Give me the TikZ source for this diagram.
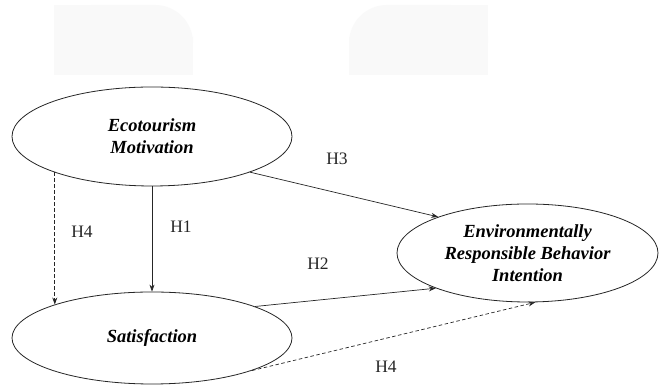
\documentclass[tikz,border=0pt]{standalone}
\usepackage{fontspec}
\setmainfont{Liberation Serif}
\usetikzlibrary{shapes.geometric,arrows.meta}
\begin{document}
\begin{tikzpicture}[x=1pt,y=1pt,
  construct/.style={ellipse,draw=black!85,line width=0.8pt,inner sep=0pt,align=center,
    font=\fontsize{18.5}{22}\selectfont\bfseries\itshape},
  link/.style={draw=black!85,line width=0.7pt,-{Stealth[length=7pt,width=5pt]}},
  dlink/.style={link,dash pattern=on 3.5pt off 2.5pt},
  hyp/.style={font=\fontsize{17.5}{20}\selectfont,text=black!85,inner sep=0pt},
  wmark/.style={fill=gray!5,draw=none}]
\useasboundingbox (0,0) rectangle (662,387);
\fill[white] (0,0) rectangle (662,387);
% faint background shapes
\path[wmark,rounded corners=38pt] (54,312) -- (54,382) -- (193,382) -- (193,312) -- cycle;
\path[wmark] (54,312) -- (54,382) -- (150,382) -- (150,312) -- cycle;
\path[wmark] (150,312) -- (193,312) -- (193,350) -- (150,350) -- cycle;
\path[wmark,rounded corners=38pt] (349,312) -- (349,382) -- (488,382) -- (488,312) -- cycle;
\path[wmark] (392,312) -- (392,382) -- (488,382) -- (488,312) -- cycle;
\path[wmark] (349,312) -- (392,312) -- (392,350) -- (349,350) -- cycle;
% constructs
\node[construct,minimum width=280pt,minimum height=99pt] (em) at (152,250.5) {Ecotourism\\Motivation};
\node[construct,minimum width=280pt,minimum height=92pt] (sat) at (152,49) {Satisfaction};
\node[construct,minimum width=261pt,minimum height=98pt] (erbi) at (527.5,134) {Environmentally\\Responsible Behavior\\Intention};
% paths
\draw[link] (em.south) -- (sat.north);
\draw[dlink] (sat.161 |- em.-160) -- (sat.161);
\draw[link] (em.-20) -- (erbi.158);
\draw[link] (sat.17) -- (erbi.-159);
\draw[dlink] (sat.-18) -- (erbi.-81);
% labels
\node[hyp] (h4a) at (82,155) {H4};
\node[hyp] (h1) at (181,160) {H1};
\node[hyp] (h3) at (337,228) {H3};
\node[hyp] (h2) at (318,123) {H2};
\node[hyp] (h4b) at (386,20) {H4};
\end{tikzpicture}
\end{document}
